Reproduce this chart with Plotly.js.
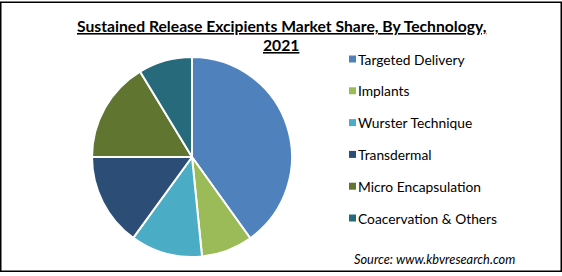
<!DOCTYPE html>
<html>
<head>
<meta charset="utf-8">
<script src="https://cdn.plot.ly/plotly-3.0.1.min.js"></script>
<style>html,body{margin:0;padding:0;background:#fff;}#chart{width:562px;height:276px;}</style>
</head>
<body>
<div id="chart"></div>
<script>
const categories = ["Targeted Delivery", "Implants", "Wurster Technique", "Transdermal", "Micro Encapsulation", "Coacervation & Others"];
const shares = [40.1, 8.3, 11.6, 15.0, 16.3, 8.7];
const colors = ["#4F81BD", "#9BBB59", "#4BACC6", "#2C4D75", "#5F7530", "#276A7C"];
const titleLines = ["Sustained Release Excipients Market Share, By Technology,", "2021"];
const sourceText = "Source: www.kbvresearch.com";

const W = 562, H = 276;
const px = x => x / W;
const py = y => 1 - y / H;

const FONT = "Lato, 'Open Sans', sans-serif";

const annotations = [];
const shapes = [];

// Title
annotations.push({xref:'paper', yref:'paper', x:px(281), y:py(26), xanchor:'center', yanchor:'middle', showarrow:false,
  text:'<b><u>' + titleLines[0] + '</u></b>', font:{family:FONT, size:15.7, color:'#000'}});
annotations.push({xref:'paper', yref:'paper', x:px(281), y:py(45), xanchor:'center', yanchor:'middle', showarrow:false,
  text:'<b><u>' + titleLines[1] + '</u></b>', font:{family:FONT, size:15.7, color:'#000'}});

// Legend
const legY0 = 59, legStep = 31.8;
categories.forEach((c, i) => {
  const yc = legY0 + i * legStep;
  shapes.push({type:'rect', xref:'paper', yref:'paper', x0:px(349), x1:px(356), y0:py(yc + 3.5), y1:py(yc - 3.5),
    fillcolor:colors[i], line:{width:0}});
  annotations.push({xref:'paper', yref:'paper', x:px(356), y:py(yc), xanchor:'left', yanchor:'middle', showarrow:false,
    text:c, font:{family:FONT, size:13.8, color:'#000'}});
});

// Source
annotations.push({xref:'paper', yref:'paper', x:px(352), y:py(259), xanchor:'left', yanchor:'middle', showarrow:false,
  text:'<i>' + sourceText + '</i>', font:{family:FONT, size:12.8, color:'#000'}});

// Border
shapes.push({type:'rect', xref:'paper', yref:'paper', x0:px(0.75), x1:px(561.25), y0:py(271.25), y1:py(2.25),
  line:{color:'#000', width:1.5}, fillcolor:'rgba(0,0,0,0)'});

const trace = {
  type:'pie',
  labels:categories,
  values:shares,
  sort:false,
  direction:'clockwise',
  rotation:0,
  textinfo:'none',
  hoverinfo:'label+percent',
  marker:{colors:colors, line:{color:'#fff', width:2}},
  domain:{x:[px(92), px(292)], y:[py(257), py(57)]},
  showlegend:false,
  automargin:false
};

const layout = {
  width:W, height:H,
  margin:{l:0, r:0, t:0, b:0},
  paper_bgcolor:'#fff',
  showlegend:false,
  annotations:annotations,
  shapes:shapes
};

Plotly.newPlot('chart', [trace], layout, {displayModeBar:false, staticPlot:true});
</script>
</body>
</html>
